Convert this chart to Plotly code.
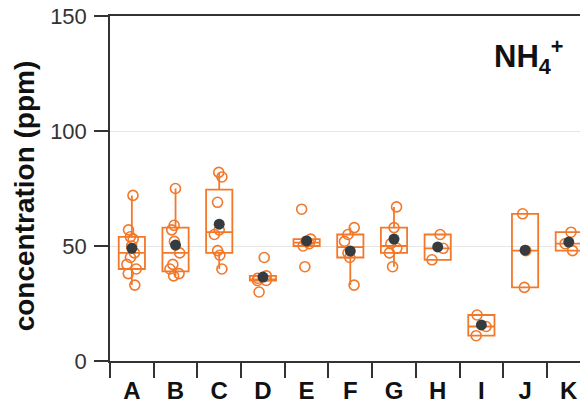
import plotly.graph_objects as go

categories = ["A", "B", "C", "D", "E", "F", "G", "H", "I", "J", "K"]
values = {
    "A": [72, 57, 54, 53, 50, 47, 45, 42, 40, 38, 33],
    "B": [75, 59, 57, 52, 47, 42, 40, 38, 37],
    "C": [82, 80, 69, 57, 55, 48, 46, 40],
    "D": [45, 37, 36, 35, 35, 30],
    "E": [66, 53, 52, 51, 50, 41],
    "F": [58, 55, 52, 47, 45, 33],
    "G": [67, 58, 51, 49, 47, 41],
    "H": [55, 49, 44],
    "I": [20, 15, 11],
    "J": [64, 48, 32],
    "K": [56, 51, 48],
}
means = [49, 50.4, 59.5, 36.5, 52.2, 47.8, 53, 49.6, 15.7, 48.2, 51.7]
y_ticks = [0, 50, 100, 150]

ORANGE = "#F2782A"
DARK = "#353b3f"

xs, ys = [], []
for c in categories:
    for v in values[c]:
        xs.append(c)
        ys.append(v)

fig = go.Figure()
fig.add_trace(go.Box(
    x=xs, y=ys,
    boxpoints="all", jitter=0.45, pointpos=0,
    quartilemethod="exclusive",
    width=0.6,
    fillcolor="rgba(255,255,255,0)",
    line=dict(color=ORANGE, width=1.8),
    marker=dict(symbol="circle-open", size=10, color=ORANGE, line=dict(width=1.6)),
    whiskerwidth=0,
    showlegend=False,
    hoverinfo="skip",
))
fig.add_trace(go.Scatter(
    x=categories, y=means, mode="markers",
    marker=dict(size=11, color=DARK),
    showlegend=False, hoverinfo="skip",
))

# page body has an 8px default margin, so margins compensate for it
fig.update_layout(
    width=588, height=406,
    margin=dict(l=102, r=8, t=8, b=53),
    paper_bgcolor="white", plot_bgcolor="white",
    font=dict(family="Liberation Sans, Arial", color="#222"),
)
fig.update_xaxes(
    type="category", categoryorder="array", categoryarray=categories,
    range=[-0.5, 10.44], automargin=False,
    tickson="boundaries", ticks="outside", ticklen=15, tickwidth=1.5, tickcolor="#333",
    showline=True, linecolor="#333", linewidth=1.5, mirror=True,
    showgrid=False, zeroline=False,
    tickfont=dict(family="Liberation Sans, Arial", size=24, color="#111", weight="bold"),
    ticklabelstandoff=7, ticklabeloverflow="allow",
)
fig.update_yaxes(
    range=[0, 150], tickvals=y_ticks, automargin=False,
    ticks="outside", ticklen=14, tickwidth=1.5, tickcolor="#333",
    showline=True, linecolor="#333", linewidth=1.5,
    showgrid=True, gridcolor="#e6e6e6", gridwidth=1, zeroline=False,
    tickfont=dict(family="Liberation Sans, Arial", size=22, color="#333"),
    ticklabelstandoff=3, ticklabeloverflow="allow",
)
fig.add_annotation(
    text="concentration (ppm)", xref="paper", yref="paper",
    x=-0.18, y=0.48, xanchor="center", yanchor="middle", textangle=-90,
    showarrow=False,
    font=dict(family="Liberation Sans, Arial", size=28, color="#111", weight="bold"),
)
fig.add_annotation(
    text="NH<sub>4</sub><sup>+</sup>", xref="paper", yref="paper",
    x=0.80, y=0.884, xanchor="left", yanchor="middle",
    showarrow=False,
    font=dict(family="Liberation Sans, Arial", size=31, color="#111", weight="bold"),
)
fig.write_html("out.html")
